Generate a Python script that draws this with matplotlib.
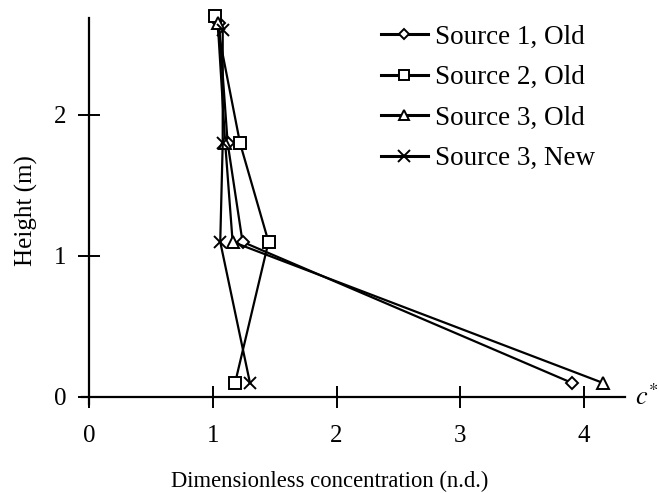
import matplotlib

matplotlib.use("Agg")
import matplotlib.pyplot as plt

# values
heights = [0.1, 1.1, 1.8, 2.65]
source1_old = [3.90, 1.24, 1.12, 1.05]
source2_old = [1.18, 1.45, 1.22, 1.02]
source2_heights = [0.1, 1.1, 1.8, 2.70]
source3_old = [4.15, 1.16, 1.10, 1.04]
source3_new = [1.30, 1.06, 1.08, 1.08]
source3_new_heights = [0.1, 1.1, 1.8, 2.60]

x_ticks = [0, 1, 2, 3, 4]
y_ticks = [0, 1, 2]

plt.rcParams["font.family"] = ["Liberation Serif", "DejaVu Serif"]
plt.rcParams["mathtext.fontset"] = "stix"

fig = plt.figure(figsize=(6.59, 4.93), dpi=100)
ax = fig.add_axes([0.1238, 0.1805, 0.8247, 0.7836])

series = [
    (source1_old, heights, "D", 6, "Source 1, Old"),
    (source2_old, source2_heights, "s", 8, "Source 2, Old"),
    (source3_old, heights, "^", 8, "Source 3, Old"),
    (source3_new, source3_new_heights, "x", 9, "Source 3, New"),
]
for xs, ys, marker, size, label in series:
    ax.plot(
        xs,
        ys,
        color="black",
        linewidth=1.6,
        marker=marker,
        markersize=size,
        markerfacecolor="white",
        markeredgecolor="black",
        markeredgewidth=1.4,
        label=label,
        clip_on=False,
        zorder=3,
    )

ax.set_xlim(-0.06, 4.33)
ax.set_ylim(-0.05, 2.69)
for side in ("top", "right"):
    ax.spines[side].set_visible(False)
ax.spines["left"].set_position(("data", 0))
ax.spines["bottom"].set_position(("data", 0))
for side in ("left", "bottom"):
    ax.spines[side].set_linewidth(1.6)

ax.set_xticks(x_ticks)
ax.set_yticks(y_ticks)
ax.tick_params(axis="both", direction="inout", length=16, width=1.4, labelsize=18)
ax.tick_params(axis="x", pad=12)
ax.tick_params(axis="y", pad=8)

ax.set_xlabel("Dimensionless concentration (n.d.)", fontsize=16.3)
ax.xaxis.set_label_coords(0.457, -0.172)
ax.set_ylabel("Height (m)", fontsize=18, labelpad=12)

ax.text(4.41, 0.0, r"$c^{*}$", fontsize=19, va="center", ha="left", clip_on=False)

handles, labels = ax.get_legend_handles_labels()
leg = ax.legend(
    handles,
    labels,
    loc="upper left",
    bbox_to_anchor=(0.557, 0.977),
    bbox_transform=fig.transFigure,
    frameon=False,
    fontsize=19.5,
    handlelength=1.75,
    handletextpad=0.25,
    labelspacing=0.57,
    borderpad=0,
    markerscale=0.9,
)
for line in leg.get_lines():
    line.set_linewidth(2.2)

fig.savefig("out.png", dpi=100)
